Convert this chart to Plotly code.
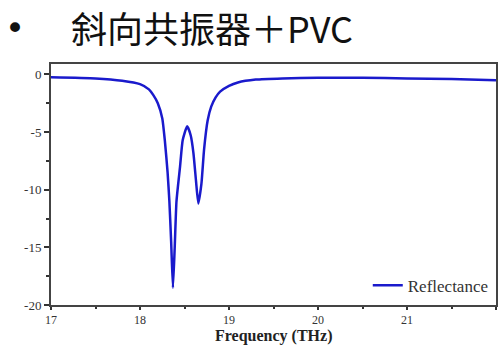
import plotly.graph_objects as go

freq = [17.0, 17.5, 17.8, 18.0, 18.1, 18.15, 18.2, 18.25, 18.28, 18.31, 18.33, 18.35, 18.37,
        18.39, 18.41, 18.45, 18.48, 18.53, 18.57, 18.60, 18.63, 18.655, 18.69, 18.72, 18.76,
        18.80, 18.85, 18.9, 19.0, 19.1, 19.3, 19.6, 20.0, 20.5, 21.0, 21.5, 22.0]
refl = [-0.25, -0.35, -0.55, -0.85, -1.3, -1.8, -2.5, -3.8, -5.8, -8.5, -11.0, -14.5, -18.5,
        -15.0, -11.0, -8.0, -5.7, -4.5, -5.3, -6.8, -9.3, -11.2, -9.5, -6.5, -4.0,
        -2.8, -2.0, -1.5, -1.0, -0.7, -0.45, -0.35, -0.3, -0.3, -0.35, -0.4, -0.5]
x_ticks = [17, 18, 19, 20, 21, 22]
y_ticks = [0, -5, -10, -15, -20]

W, H = 499, 346
L, R, T, B = 51, 3, 64, 41
pw, ph = W - L - R, H - T - B

def px_to_paper(xp, yp):
    return (xp - L) / pw, (H - B - yp) / ph

fig = go.Figure()
fig.add_trace(go.Scatter(x=freq, y=refl, mode="lines", name="Reflectance",
                         line=dict(color="#1a1acc", width=2.5, shape="spline", smoothing=0.5)))

serif = "Times New Roman, Liberation Serif, DejaVu Serif, serif"
fig.update_layout(
    width=W, height=H,
    margin=dict(l=L, r=R, t=T, b=B, autoexpand=False),
    paper_bgcolor="white", plot_bgcolor="white",
    font=dict(family=serif, color="#222222", size=12),
    showlegend=True,
    legend=dict(x=0.995, y=0.005, xanchor="right", yanchor="bottom",
                bgcolor="rgba(0,0,0,0)", font=dict(family=serif, size=17, color="#333333")),
    xaxis=dict(range=[17, 22], tickvals=x_ticks, ticktext=[str(v) for v in x_ticks],
               ticks="outside", ticklen=3, tickwidth=1.5, tickcolor="#333333",
               showline=True, linecolor="#444444", linewidth=2, mirror=True,
               showgrid=False, zeroline=False,
               tickfont=dict(family=serif, size=12, color="#333333"),
               minor=dict(dtick=0.5, ticks="outside", ticklen=2, tickcolor="#333333")),
    xaxis2=dict(range=[17, 22], overlaying="x", side="top", tickvals=x_ticks,
                showticklabels=False, ticks="inside", ticklen=4, tickwidth=1.5,
                tickcolor="#333333", showgrid=False, zeroline=False, showline=False,
                minor=dict(dtick=0.5, ticks="inside", ticklen=3, tickcolor="#333333")),
    yaxis=dict(range=[-20, 0.9], tickvals=y_ticks, ticktext=[str(v) for v in y_ticks],
               ticks="outside", ticklen=5, tickwidth=1.5, tickcolor="#333333",
               showline=True, linecolor="#444444", linewidth=2, mirror=True,
               showgrid=False, zeroline=False,
               tickfont=dict(family=serif, size=13, color="#333333"),
               minor=dict(dtick=2.5, ticks="outside", ticklen=3, tickcolor="#333333")),
)

ax, ay = px_to_paper(273, 336)
fig.add_annotation(text="<b>Frequency (THz)</b>", x=ax, y=ay, xref="paper", yref="paper",
                   showarrow=False, xanchor="center", yanchor="middle",
                   font=dict(family=serif, size=16, color="#222222"))

bx, by = px_to_paper(15, 28)
fig.add_annotation(text="•", x=bx, y=by, xref="paper", yref="paper", showarrow=False,
                   xanchor="center", yanchor="middle",
                   font=dict(family="DejaVu Sans", size=34, color="#111111"))
tx, ty = px_to_paper(69, 27)
fig.add_annotation(text="斜向共振器＋PVC", x=tx, y=ty, xref="paper", yref="paper",
                   showarrow=False, xanchor="left", yanchor="middle",
                   font=dict(family="Noto Sans CJK SC", size=36, color="#111111"))

fig.write_html("out.html", config={"displayModeBar": False},
               post_script="document.body.style.margin='0';")
